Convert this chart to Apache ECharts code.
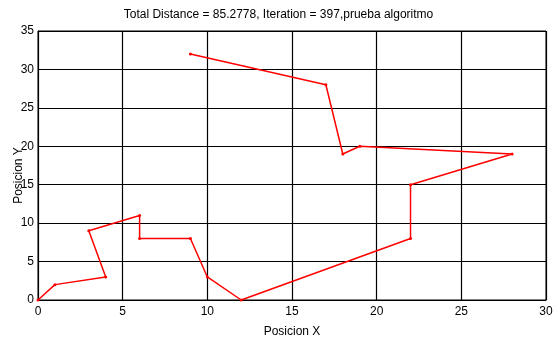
<!DOCTYPE html>
<html>
<head>
<meta charset="utf-8">
<script src="https://cdn.jsdelivr.net/npm/echarts@6/dist/echarts.min.js"></script>
<style>
  html, body { margin: 0; padding: 0; background: #fff; }
  #chart { width: 557px; height: 341px; }
</style>
</head>
<body>
<div id="chart"></div>
<script>
// Route visited by the algorithm, in visiting order
const routeX = [0, 1, 4, 3, 6, 6, 9, 10, 12, 22, 22, 28, 19, 18, 17, 9];
const routeY = [0, 2, 3, 9, 11, 8, 8, 3, 0, 8, 15, 19, 20, 19, 28, 32];

const titleText = 'Total Distance = 85.2778, Iteration = 397,prueba algoritmo';
const xName = 'Posicion X';
const yName = 'Posicion Y';

const FONT = '"Liberation Sans Narrow", "Arial Narrow", "Liberation Sans", Arial, sans-serif';

const points = routeX.map((x, i) => [x, routeY[i]]);

const chart = echarts.init(document.getElementById('chart'), null, { renderer: 'canvas' });
chart.setOption({
  animation: false,
  backgroundColor: '#ffffff',
  title: {
    text: titleText,
    left: 'center',
    top: 4,
    textStyle: { fontFamily: FONT, fontSize: 12, fontWeight: 'normal', color: '#000' }
  },
  grid: {
    left: 38, right: 11, top: 31, bottom: 41,
    containLabel: false,
    outerBoundsMode: 'none',
    show: true, borderColor: '#000', borderWidth: 1, backgroundColor: '#fff'
  },
  xAxis: {
    type: 'value', min: 0, max: 30, interval: 5,
    name: xName, nameLocation: 'middle', nameGap: 26, nameMoveOverlap: false,
    nameTextStyle: { fontFamily: FONT, fontSize: 12, color: '#000' },
    axisLine: { show: true, lineStyle: { color: '#000', width: 1 } },
    axisTick: { show: true, inside: true, length: 4, lineStyle: { color: '#000' } },
    axisLabel: { fontFamily: FONT, fontSize: 12, color: '#000', margin: 6 },
    splitLine: { show: true, lineStyle: { color: '#000', width: 1.2 } }
  },
  yAxis: {
    type: 'value', min: 0, max: 35, interval: 5,
    name: yName, nameLocation: 'middle', nameGap: 13, nameRotate: 90, nameMoveOverlap: false,
    nameTextStyle: { fontFamily: FONT, fontSize: 12, color: '#000', padding: [0, 20, 0, 0] },
    axisLine: { show: true, lineStyle: { color: '#000', width: 1 } },
    axisTick: { show: true, inside: true, length: 4, lineStyle: { color: '#000' } },
    axisLabel: { fontFamily: FONT, fontSize: 12, color: '#000', margin: 4 },
    splitLine: { show: true, lineStyle: { color: '#000', width: 1.2 } }
  },
  series: [{
    type: 'line',
    data: points,
    smooth: false,
    symbol: 'circle',
    symbolSize: 3,
    showAllSymbol: true,
    lineStyle: { color: '#ff0000', width: 1.5 },
    itemStyle: { color: '#ff0000' },
    z: 5
  }]
});
</script>
</body>
</html>
